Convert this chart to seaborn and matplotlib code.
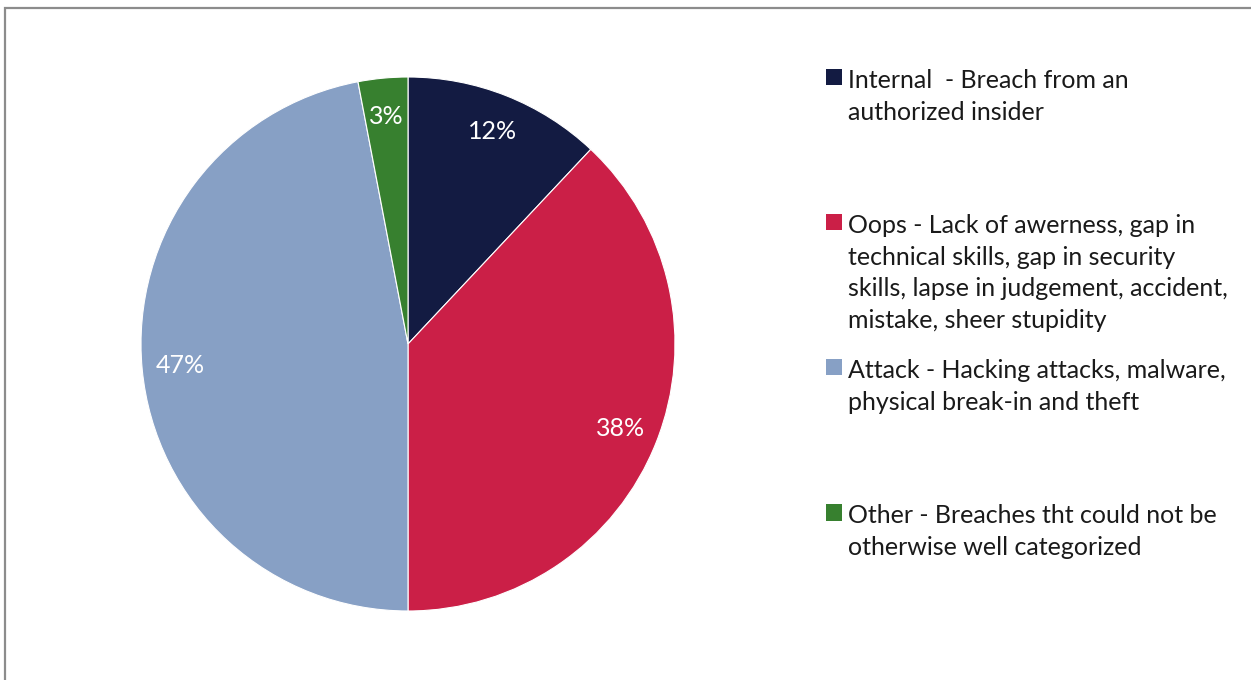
import matplotlib
matplotlib.use("Agg")
import matplotlib.pyplot as plt
from matplotlib.patches import Rectangle, Patch
import seaborn as sns

categories = ["Internal", "Oops", "Attack", "Other"]
values = [12, 38, 47, 3]
legend_labels = [
    "Internal  - Breach from an\nauthorized insider",
    "Oops - Lack of awerness, gap in\ntechnical skills, gap in security\nskills, lapse in judgement, accident,\nmistake, sheer stupidity",
    "Attack - Hacking attacks, malware,\nphysical break-in and theft",
    "Other - Breaches tht could not be\notherwise well categorized",
]
colors = ["#131B42", "#CB1F47", "#87A0C5", "#37802F"]

sns.set_theme(style="white")
plt.rcParams["font.family"] = ["Lato", "DejaVu Sans"]

W, H = 1251, 680
fig = plt.figure(figsize=(W / 100, H / 100), dpi=100)
fig.patch.set_facecolor("white")

cx, cy, r = 408, 344, 267
ax = fig.add_axes([(cx - r) / W, (H - cy - r) / H, 2 * r / W, 2 * r / H])
palette = sns.color_palette(colors)
wedges, texts, autotexts = ax.pie(
    values, colors=palette, startangle=90, counterclock=False,
    autopct="%1.0f%%", pctdistance=0.855,
    textprops=dict(color="white", fontsize=18),
    wedgeprops=dict(linewidth=0.8, edgecolor="white"),
)
ax.set_xlim(-1, 1)
ax.set_ylim(-1, 1)
ax.set_aspect("equal")
ax.axis("off")

# legend: pad labels to equal 4-line slots
lines_max = 4
padded = [lab + "\n" * (lines_max - 1 - lab.count("\n")) for lab in legend_labels]
handles = [Patch(facecolor=c, edgecolor="none") for c in palette]
leg = fig.legend(handles, padded, loc="upper left",
                 bbox_to_anchor=(826 / W, 1 - 69 / H),
                 frameon=False, fontsize=18, borderpad=0, borderaxespad=0,
                 handlelength=0.62, handleheight=0.62, handletextpad=0.28,
                 labelspacing=1.1)
for t in leg.get_texts():
    t.set_color("#1a1a1a")
    t.set_linespacing(1.45)
for col in leg._legend_handle_box.get_children():
    for item in col.get_children():
        item.align = "top"

# outer frame (extends past the right and bottom edges)
fig.add_artist(Rectangle((4.5 / W, -0.05), 1.2, 1 - 7.5 / H + 0.05,
                         transform=fig.transFigure, fill=False,
                         edgecolor="#8c8c8c", linewidth=1.6, clip_on=False))

fig.savefig("out.png", dpi=100, facecolor="white")
